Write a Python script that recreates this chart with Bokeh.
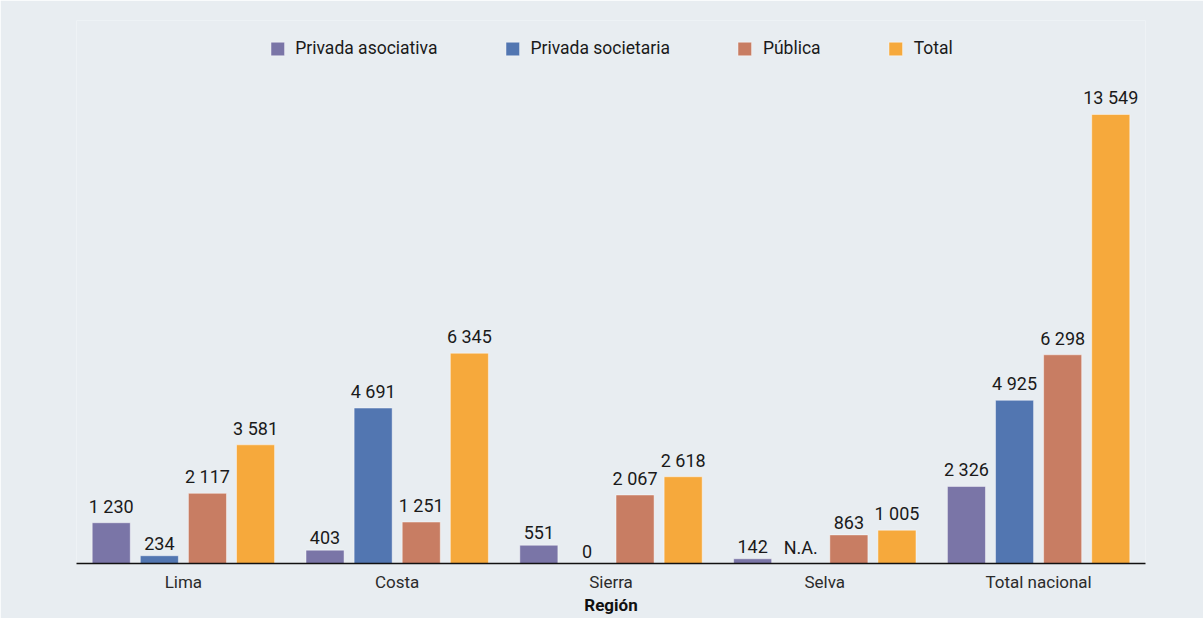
import math
from bokeh.plotting import figure
from bokeh.models import ColumnDataSource, Range1d, Legend, LegendItem
from bokeh.transform import dodge
from bokeh.core.properties import value
from bokeh.embed import file_html
from bokeh.resources import INLINE

# ---- data ----
categories = ["Lima", "Costa", "Sierra", "Selva", "Total nacional"]
series_names = ["Privada asociativa", "Privada societaria", "Pública", "Total"]
privada_asociativa = [1230, 403, 551, 142, 2326]
privada_societaria = [234, 4691, 0, None, 4925]   # None = N.A.
publica = [2117, 1251, 2067, 863, 6298]
total = [3581, 6345, 2618, 1005, 13549]
colors = ["#7a75a7", "#5276b1", "#c87d63", "#f6a93c"]

BG = "#e8edf1"
FONT = "Roboto"


def fmt(v):
    if v is None:
        return "N.A."
    return f"{v:,}".replace(",", " ")


p = figure(x_range=categories, y_range=Range1d(0, 16385),
           width=1203, height=618, output_backend="svg",
           toolbar_location=None, min_border_left=76, min_border_right=58,
           min_border_top=20, min_border_bottom=55)
p.background_fill_color = BG
p.border_fill_color = BG
p.outline_line_color = None
p.xgrid.grid_line_color = None
p.ygrid.grid_line_color = None
p.yaxis.visible = False
p.x_range.range_padding = 0

offsets = [-0.3375, -0.1125, 0.1125, 0.3375]
all_series = [privada_asociativa, privada_societaria, publica, total]
items = []
for name, vals, col, off in zip(series_names, all_series, colors, offsets):
    tops = [float("nan") if v is None else v for v in vals]
    ys = [0 if v is None else v for v in vals]
    src = ColumnDataSource(dict(cat=categories, top=tops, y=ys,
                                label=[fmt(v) for v in vals]))
    r = p.vbar(x=dodge("cat", off, range=p.x_range), top="top", width=0.178,
               source=src, fill_color=col, line_color="white", line_alpha=0.45,
               line_width=1)
    p.text(x=dodge("cat", off, range=p.x_range), y="y", text="label",
           source=src, text_align="center", text_baseline="bottom",
           y_offset=-6, text_font=value(FONT), text_font_size="18px",
           text_color="#1a1a1a")
    items.append(LegendItem(label=name, renderers=[r]))

legend = Legend(items=items, orientation="horizontal", location="top_center",
                margin=18, padding=0, spacing=66, glyph_width=17,
                glyph_height=17, label_height=17, label_standoff=10,
                label_text_font=FONT, label_text_font_size="17.5px",
                label_text_color="#1a1a1a", background_fill_alpha=0,
                border_line_color=None)
p.add_layout(legend, "center")

ax = p.xaxis[0]
ax.axis_line_color = "#111111"
ax.axis_line_width = 1.5
ax.major_tick_line_color = None
ax.minor_tick_line_color = None
ax.major_tick_out = 0
ax.major_tick_in = 0
ax.major_label_standoff = 8
ax.major_label_text_font = FONT
ax.major_label_text_font_size = "17px"
ax.major_label_text_color = "#2b2b2b"
ax.axis_label = "Región"
ax.axis_label_standoff = 0
ax.axis_label_text_font = FONT
ax.axis_label_text_font_size = "17px"
ax.axis_label_text_font_style = "bold"
ax.axis_label_text_color = "#111111"

open("out.html", "w").write(file_html(p, INLINE))
